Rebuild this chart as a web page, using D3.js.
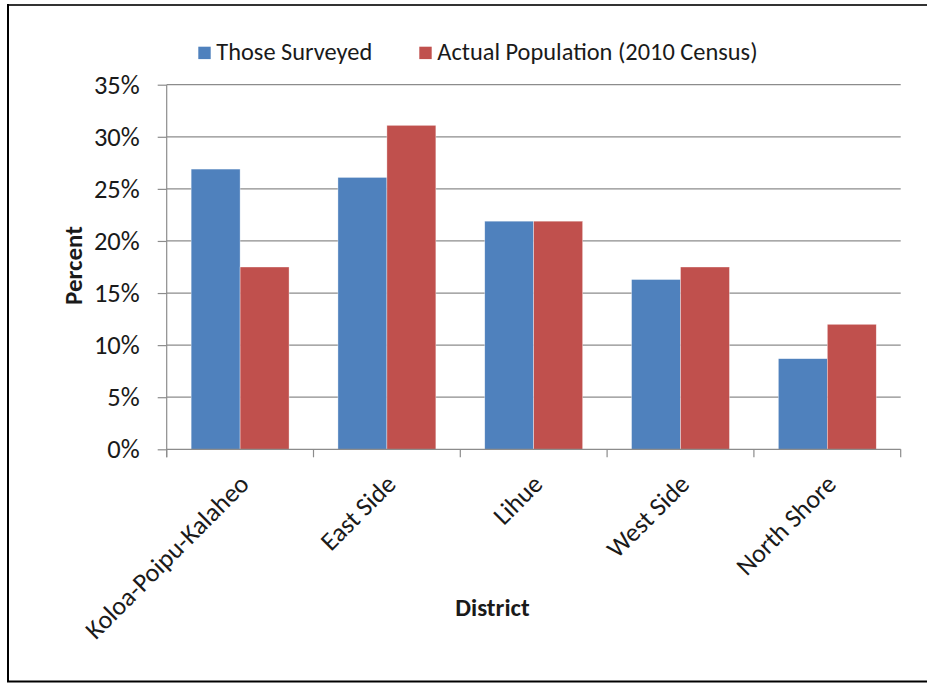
<!DOCTYPE html>
<html>
<head>
<meta charset="utf-8">
<script src="https://cdn.jsdelivr.net/npm/d3@7"></script>
<style>
  html, body { margin: 0; padding: 0; background: #fff; }
  svg { display: block; }
  text { font-family: Carlito, Lato, "Open Sans", sans-serif; fill: #1a1a1a; }
</style>
</head>
<body>
<svg id="chart" width="927" height="683"></svg>
<script>
const categories = ["Koloa-Poipu-Kalaheo", "East Side", "Lihue", "West Side", "North Shore"];
const seriesNames = ["Those Surveyed", "Actual Population (2010 Census)"];
const surveyed = [26.9, 26.1, 21.9, 16.3, 8.7];
const census = [17.5, 31.1, 21.9, 17.5, 12.0];
const seriesColors = ["#4F81BD", "#C0504D"];
const yTicks = [0, 5, 10, 15, 20, 25, 30, 35];
const xTitle = "District";
const yTitle = "Percent";

const svg = d3.select("#chart");
const W = 927, H = 683;

// outer frame
svg.append("line").attr("x1", 8).attr("x2", W).attr("y1", 5).attr("y2", 5)
  .attr("stroke", "#333").attr("stroke-width", 2);
svg.append("line").attr("x1", 8).attr("x2", 8).attr("y1", 4).attr("y2", 682)
  .attr("stroke", "#000").attr("stroke-width", 2);
svg.append("line").attr("x1", 7).attr("x2", W).attr("y1", 681.5).attr("y2", 681.5)
  .attr("stroke", "#000").attr("stroke-width", 2);

const plot = { left: 166.7, right: 900.7, top: 84.7, bottom: 449.3 };

const x0 = d3.scaleBand().domain(categories)
  .range([plot.left, plot.right]).paddingInner(0.333).paddingOuter(0.1665);
const x1 = d3.scaleBand().domain(seriesNames).range([0, x0.bandwidth()]).padding(0);
const y = d3.scaleLinear().domain([0, 35]).range([plot.bottom, plot.top]);

// gridlines
svg.append("g").selectAll("line").data(yTicks.filter(d => d > 0)).join("line")
  .attr("x1", plot.left).attr("x2", plot.right)
  .attr("y1", d => y(d)).attr("y2", d => y(d))
  .attr("stroke", "#8c8c8c").attr("stroke-width", 1.2);

// bars
const data = categories.map((c, i) => ({ c, vals: [surveyed[i], census[i]] }));
const groups = svg.append("g").selectAll("g").data(data).join("g")
  .attr("transform", d => `translate(${x0(d.c)},0)`);
groups.selectAll("rect").data(d => d.vals.map((v, j) => ({ v, s: seriesNames[j], j })))
  .join("rect")
  .attr("x", d => x1(d.s)).attr("width", x1.bandwidth())
  .attr("y", d => y(d.v)).attr("height", d => y(0) - y(d.v))
  .attr("fill", d => seriesColors[d.j])
  .attr("stroke", "rgba(255,255,255,0.6)").attr("stroke-width", 0.6);

// y axis
const yAxis = d3.axisLeft(y).tickValues(yTicks).tickFormat(d => d + "%").tickSize(9).tickPadding(18);
const gy = svg.append("g").attr("transform", `translate(${plot.left},0)`).call(yAxis);
gy.select(".domain").remove();
gy.selectAll(".tick line").attr("stroke", "#8c8c8c").attr("stroke-width", 1.2);
gy.selectAll(".tick text").attr("font-size", 26.5).attr("fill", "#1a1a1a")
  .style("font-family", "Carlito, Lato, sans-serif");
svg.append("line").attr("x1", plot.left).attr("x2", plot.left)
  .attr("y1", plot.top).attr("y2", plot.bottom + 8)
  .attr("stroke", "#8c8c8c").attr("stroke-width", 1.2);

// x axis
svg.append("line").attr("x1", plot.left).attr("x2", plot.right)
  .attr("y1", plot.bottom).attr("y2", plot.bottom)
  .attr("stroke", "#8c8c8c").attr("stroke-width", 1.2);
const bounds = d3.range(categories.length + 1).map(i => plot.left + i * x0.step());
svg.append("g").selectAll("line").data(bounds).join("line")
  .attr("x1", d => d).attr("x2", d => d)
  .attr("y1", plot.bottom).attr("y2", plot.bottom + 8)
  .attr("stroke", "#8c8c8c").attr("stroke-width", 1.2);

const xAxis = d3.axisBottom(x0).tickSize(0).tickPadding(0);
const gx = svg.append("g").attr("transform", `translate(0,${plot.bottom})`).call(xAxis);
gx.select(".domain").remove();
gx.selectAll(".tick text")
  .attr("font-size", 26).attr("fill", "#1a1a1a")
  .attr("text-anchor", "end").attr("dy", "0.35em")
  .attr("transform", "translate(4,30) rotate(-45)")
  .attr("y", 0).attr("x", 0)
  .style("font-family", "Carlito, Lato, sans-serif");

// axis titles
svg.append("text").attr("x", 492.5).attr("y", 616)
  .attr("text-anchor", "middle").attr("font-size", 25).attr("font-weight", "bold")
  .text(xTitle);
svg.append("text").attr("transform", "translate(81.5,265.5) rotate(-90)")
  .attr("text-anchor", "middle").attr("font-size", 25).attr("font-weight", "bold")
  .text(yTitle);

// legend
const legend = svg.append("g");
const legendX = [198.3, 419.3];
seriesNames.forEach((s, i) => {
  legend.append("rect").attr("x", legendX[i]).attr("y", 46.7).attr("width", 12.4).attr("height", 12.4)
    .attr("fill", seriesColors[i]);
  legend.append("text").attr("x", legendX[i] + 18).attr("y", 59.5)
    .attr("font-size", 24.4).text(s);
});
</script>
</body>
</html>
